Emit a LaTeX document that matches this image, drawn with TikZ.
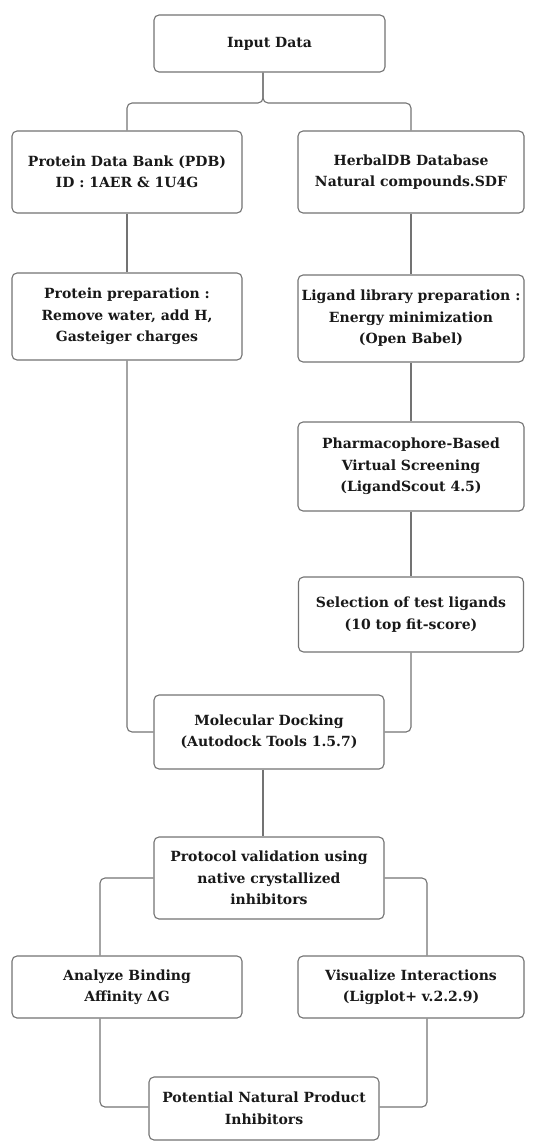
\documentclass[tikz,border=0pt]{standalone}
\usepackage{fontspec}
\setmainfont{DejaVu Serif}
\begin{document}
\begin{tikzpicture}[x=1pt,y=-1pt,
  box/.style={draw=black!55, line width=1.1pt, rounded corners=5pt, fill=white,
    align=center, inner sep=0pt, font=\bfseries\fontsize{14}{21.5}\selectfont, text=black!90},
  conn/.style={draw=black!55, line width=1.1pt, rounded corners=5pt}]
\useasboundingbox (0,0) rectangle (548,1142);
\node[box, minimum width=231pt, minimum height=57pt] (in) at (269.5,43.5) {Input Data};
\node[box, minimum width=230pt, minimum height=82pt] (pdb) at (127,172) {Protein Data Bank (PDB)\\ID : 1AER \& 1U4G};
\node[box, minimum width=226pt, minimum height=82pt] (herb) at (411,172) {HerbalDB Database\\Natural compounds.SDF};
\node[box, minimum width=230pt, minimum height=87pt] (prep) at (127,316.5) {Protein preparation :\\Remove water, add H,\\Gasteiger charges};
\node[box, minimum width=226pt, minimum height=87pt] (lig) at (411,318.5) {Ligand library preparation :\\Energy minimization\\(Open Babel)};
\node[box, minimum width=226pt, minimum height=89pt] (pharm) at (411,466.5) {Pharmacophore-Based\\Virtual Screening\\(LigandScout 4.5)};
\node[box, minimum width=225pt, minimum height=75pt] (sel) at (411,614.5) {Selection of test ligands\\(10 top fit-score)};
\node[box, minimum width=230pt, minimum height=74pt] (dock) at (269,732) {Molecular Docking\\(Autodock Tools 1.5.7)};
\node[box, minimum width=230pt, minimum height=82pt] (prot) at (269,878) {Protocol validation using\\native crystallized\\inhibitors};
\node[box, minimum width=230pt, minimum height=62pt] (ana) at (127,987) {Analyze Binding\\Affinity ΔG};
\node[box, minimum width=226pt, minimum height=62pt] (vis) at (411,987) {Visualize Interactions\\(Ligplot+ v.2.2.9)};
\node[box, minimum width=230pt, minimum height=63pt] (pot) at (264,1108.5) {Potential Natural Product\\Inhibitors};
\coordinate (j0) at (263,103);
\draw[conn] ([xshift=-6.5pt]in.south) -- (j0) -| (pdb.north);
\draw[conn] ([xshift=-6.5pt]in.south) -- (j0) -| (herb.north);
\draw[conn] (pdb.south) -- (prep.north);
\draw[conn] (herb.south) -- (lig.north);
\draw[conn] (lig.south) -- (pharm.north);
\draw[conn] (pharm.south) -- (sel.north);
\draw[conn] (prep.south) |- (dock.west);
\draw[conn] (sel.south) |- (dock.east);
\draw[conn] ([xshift=-6pt]dock.south) -- ([xshift=-6pt]prot.north);
\draw[conn] (prot.west) -| ([xshift=-27pt]ana.north);
\draw[conn] (prot.east) -| ([xshift=16pt]vis.north);
\draw[conn] ([xshift=-27pt]ana.south) |- ([yshift=1.5pt]pot.west);
\draw[conn] ([xshift=16pt]vis.south) |- ([yshift=1.5pt]pot.east);
\end{tikzpicture}
\end{document}
